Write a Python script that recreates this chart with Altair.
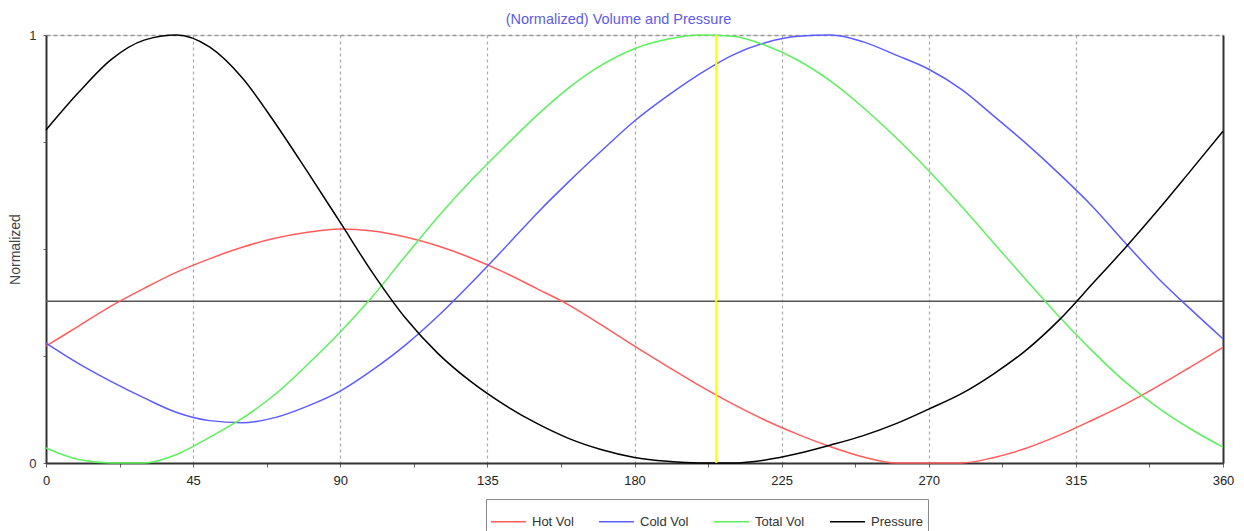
import altair as alt
import pandas as pd

# ---- data ----
angles = list(range(0, 361, 10))

hot_vol = [0.273, 0.32, 0.367, 0.408, 0.446, 0.477, 0.504, 0.525, 0.539, 0.547,
           0.542, 0.528, 0.507, 0.479, 0.446, 0.408, 0.369, 0.322, 0.273, 0.226,
           0.18, 0.138, 0.1, 0.067, 0.038, 0.014, 0.0, 0.0, 0.0, 0.013,
           0.035, 0.065, 0.1, 0.137, 0.179, 0.224, 0.27]

cold_vol = [0.28, 0.232, 0.19, 0.152, 0.118, 0.099, 0.094, 0.106, 0.133, 0.168,
            0.218, 0.276, 0.344, 0.42, 0.5, 0.582, 0.658, 0.73, 0.799, 0.857,
            0.909, 0.953, 0.982, 0.997, 1.0, 0.984, 0.953, 0.92, 0.873, 0.81,
            0.745, 0.675, 0.6, 0.515, 0.433, 0.36, 0.29]

total_vol = [0.035, 0.008, 0.0, 0.0, 0.02, 0.06, 0.104, 0.16, 0.23, 0.306,
             0.39, 0.484, 0.576, 0.66, 0.737, 0.811, 0.877, 0.93, 0.968, 0.99,
             1.0, 0.997, 0.976, 0.941, 0.892, 0.83, 0.76, 0.683, 0.6, 0.513,
             0.426, 0.341, 0.262, 0.19, 0.13, 0.08, 0.037]

pressure = [0.778, 0.866, 0.943, 0.988, 1.0, 0.972, 0.9, 0.795, 0.68, 0.562,
            0.443, 0.338, 0.255, 0.19, 0.137, 0.093, 0.057, 0.031, 0.013, 0.004,
            0.0, 0.0, 0.007, 0.022, 0.042, 0.064, 0.092, 0.126, 0.162, 0.209,
            0.265, 0.335, 0.418, 0.502, 0.59, 0.682, 0.775]

series_names = ["Hot Vol", "Cold Vol", "Total Vol", "Pressure"]
series_colors = ["#ff5c5c", "#5c5cff", "#5cf05c", "#000000"]
series_widths = [1.5, 1.5, 1.5, 2.5]

ref_level = [0.378]        # horizontal reference line
marker_angle = [205]       # yellow marker line

x_ticks = [i * 11.25 for i in range(33)]
y_ticks = [0, 0.25, 0.5, 0.75, 1]

rows = []
for name, vals in zip(series_names, [hot_vol, cold_vol, total_vol, pressure]):
    for a, v in zip(angles, vals):
        rows.append({"angle": a, "value": v, "series": name})
df = pd.DataFrame(rows)
ref_df = pd.DataFrame({"ref": ref_level})
mark_df = pd.DataFrame({"angle": marker_angle})

FONT = "Liberation Sans"

x_scale = alt.Scale(domain=[0, 360], nice=False, zero=False)
y_scale = alt.Scale(domain=[0, 1], nice=False)

x_axis = alt.Axis(
    values=x_ticks,
    title=None,
    format=".0f",
    labelExpr="datum.value % 45 == 0 ? datum.label : ''",
    labelFlush=False,
    labelFont=FONT, labelFontSize=13, labelColor="#222",
    labelPadding=7,
    tickSize=4, tickColor="#666", tickWidth=1,
    domainColor="#333", domainWidth=2,
    grid=True, gridColor="#aaaaaa", gridDash=[3, 3], gridWidth=1.2,
    gridOpacity={"condition": {"test": "datum.value % 45 == 0 && datum.value > 0 && datum.value < 360",
                               "value": 1}, "value": 0},
)

y_axis = alt.Axis(
    values=y_ticks,
    title="Normalized",
    titleFont=FONT, titleFontSize=14, titleFontWeight="normal", titleColor="#444",
    titleAngle=270, titleBaseline="middle", titleX=-31, titleY=214,
    format="~g",
    labelExpr="datum.value == 0 || datum.value == 1 ? datum.label : ''",
    labelFlush=False,
    labelFont=FONT, labelFontSize=13, labelColor="#333",
    labelPadding=7,
    tickSize=3, tickColor="#666",
    domainColor="#333", domainWidth=2,
    grid=True, gridColor="#999999", gridDash=[4, 3], gridWidth=1.5,
    gridOpacity={"condition": {"test": "datum.value == 1", "value": 1}, "value": 0},
)

legend = alt.Legend(
    title=None, orient="none", legendX=440, legendY=464,
    direction="horizontal", columns=4,
    symbolType="stroke", symbolSize=1225,
    labelFont=FONT, labelFontSize=13, labelColor="#333", labelOffset=5,
    columnPadding=22, padding=4,
    strokeColor="#888888", fillColor="white",
)

lines = alt.Chart(df).mark_line(interpolate="monotone").encode(
    x=alt.X("angle:Q", scale=x_scale, axis=x_axis),
    y=alt.Y("value:Q", scale=y_scale, axis=y_axis),
    color=alt.Color("series:N", scale=alt.Scale(domain=series_names, range=series_colors), legend=legend),
    strokeWidth=alt.StrokeWidth("series:N", scale=alt.Scale(domain=series_names, range=series_widths), legend=legend),
)

hline = alt.Chart(ref_df).mark_rule(color="#555555", strokeWidth=1.5).encode(
    y=alt.Y("ref:Q", scale=y_scale,
            axis=alt.Axis(orient="right", title=None, labels=False, ticks=False, grid=False,
                          domainColor="#333", domainWidth=2)),
)

vline = alt.Chart(mark_df).mark_rule(color="#ffff00", strokeWidth=2).encode(
    x=alt.X("angle:Q", scale=x_scale),
)

chart = alt.layer(hline, lines, vline).resolve_axis(y="independent").properties(
    width=1177,
    height=428,
    autosize="none",
    padding={"left": 38, "top": 27, "right": 13, "bottom": 68},
    title=alt.TitleParams(
        "(Normalized) Volume and Pressure",
        font=FONT, fontSize=14.5, fontWeight="normal", color="#5c5ce6",
        anchor="middle", frame="group", offset=2, dx=-16,
    ),
).configure_view(stroke=None).configure(background="white")

chart.save("out.html", embed_options={"renderer": "svg", "actions": False})
